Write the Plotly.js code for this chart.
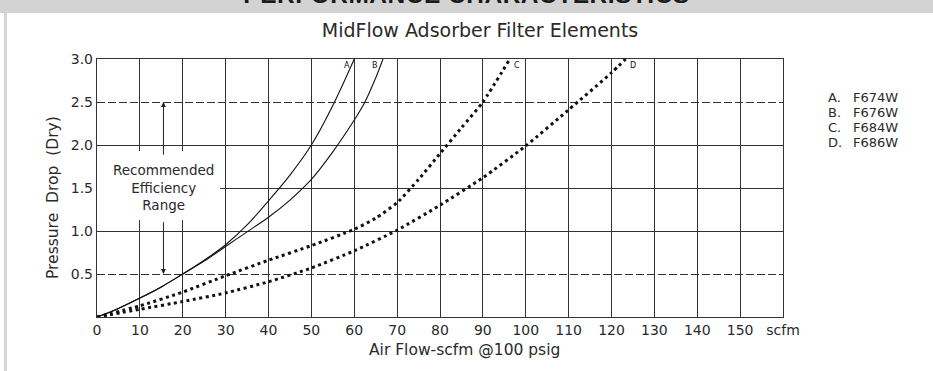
<!DOCTYPE html>
<html>
<head>
<meta charset="utf-8">
<script src="https://cdn.plot.ly/plotly-3.0.1.min.js"></script>
<style>
  html, body { margin: 0; padding: 0; background: #fff; }
  #wrap { position: relative; width: 933px; height: 371px; overflow: hidden; }
  #band { position: absolute; left: 0; top: 0; width: 933px; height: 13px; background: #d3d3d3; overflow: hidden; z-index: 2; }
  #band span { position: absolute; left: 0; width: 933px; text-align: center; top: -19px;
    font: bold 24.5px "Liberation Sans", Arial, sans-serif; color: #1a1a1a; letter-spacing: 0.5px; white-space: nowrap; }
  #edge { position: absolute; left: 4px; top: 13px; width: 3px; height: 358px; background: #d6d6d6; z-index: 2; }
  #chart { position: absolute; left: 0; top: 0; width: 933px; height: 371px; }
  #chart .shapelayer path { shape-rendering: crispEdges; }
</style>
</head>
<body>
<div id="wrap">
  <div id="chart"></div>
  <div id="band"><span>PERFORMANCE CHARACTERISTICS</span></div>
  <div id="edge"></div>
</div>
<script>
// ---- data ----
const chartTitle = 'MidFlow Adsorber Filter Elements';
const xTitle = 'Air Flow-scfm @100 psig';
const yTitle = 'Pressure&nbsp;&nbsp;Drop&nbsp;&nbsp;(Dry)';
const xTickVals = [0, 10, 20, 30, 40, 50, 60, 70, 80, 90, 100, 110, 120, 130, 140, 150, 160];
const xTickText = ['0', '10', '20', '30', '40', '50', '60', '70', '80', '90', '100', '110', '120', '130', '140', '150', 'scfm'];
const yTickVals = [0.5, 1.0, 1.5, 2.0, 2.5, 3.0];
const yTickText = ['0.5', '1.0', '1.5', '2.0', '2.5', '3.0'];
const curveLetters = ['A', 'B', 'C', 'D'];
const modelNames = ['F674W', 'F676W', 'F684W', 'F686W'];

const flowA = [0, 5, 10, 15, 20, 25, 30, 35, 40, 45, 50, 55, 60];
const dropA = [0, 0.10, 0.22, 0.35, 0.50, 0.66, 0.84, 1.07, 1.35, 1.65, 2.00, 2.46, 3.00];
const flowB = [0, 5, 10, 15, 20, 25, 30, 35, 40, 45, 50, 55, 60, 62.5, 65, 66.7];
const dropB = [0, 0.10, 0.22, 0.35, 0.50, 0.65, 0.82, 0.99, 1.16, 1.36, 1.60, 1.92, 2.29, 2.50, 2.78, 3.00];
const flowC = [0, 10, 20, 30, 40, 50, 60, 65, 70, 75, 80, 85, 90, 96.3];
const dropC = [0, 0.13, 0.29, 0.48, 0.66, 0.83, 1.02, 1.15, 1.33, 1.60, 1.90, 2.20, 2.50, 3.00];
const flowD = [0, 10, 20, 30, 40, 50, 60, 70, 80, 90, 100, 110, 120, 123.3];
const dropD = [0, 0.09, 0.18, 0.28, 0.41, 0.57, 0.77, 1.01, 1.30, 1.62, 1.99, 2.41, 2.84, 3.00];

const recText = 'Recommended<br>Efficiency<br>Range';
const recRange = [0.5, 2.5];

// ---- styling ----
const FONT = '"DejaVu Sans", "Liberation Sans", sans-serif';
const INK = '#2a2a2a';
const GRID = '#333';

const flows = [flowA, flowB, flowC, flowD];
const drops = [dropA, dropB, dropC, dropD];
const solid = [true, true, false, false];

const traces = flows.map((fx, i) => ({
  type: 'scatter', mode: 'lines', x: fx, y: drops[i], name: modelNames[i],
  line: solid[i] ? { color: '#111', width: 1.1, shape: 'spline', smoothing: 1 }
                 : { color: '#111', width: 3, dash: '3px,3.5px', shape: 'spline', smoothing: 0.6 },
  hoverinfo: 'skip', showlegend: false
}));

// grid shapes
const shapes = [];
const recX = 15.5;
xTickVals.slice(1, -1).forEach(v => {
  if (v === 10 || v === 20) {
    shapes.push({ type: 'line', xref: 'x', yref: 'y', x0: v, x1: v, y0: 0, y1: 1.13, line: { color: GRID, width: 1 }, layer: 'below' });
    shapes.push({ type: 'line', xref: 'x', yref: 'y', x0: v, x1: v, y0: 1.93, y1: 3, line: { color: GRID, width: 1 }, layer: 'below' });
  } else {
    shapes.push({ type: 'line', xref: 'x', yref: 'y', x0: v, x1: v, y0: 0, y1: 3, line: { color: GRID, width: 1 }, layer: 'below' });
  }
});
yTickVals.slice(0, -1).forEach(v => {
  const dashed = (v === recRange[0] || v === recRange[1]);
  shapes.push({ type: 'line', xref: 'x', yref: 'y', x0: (v === 1.5 ? 28.6 : 0), x1: 160, y0: v, y1: v,
    line: { color: GRID, width: 1, dash: dashed ? '8px,3px' : 'solid' }, layer: 'below' });
});

const annotations = [];
// recommended range
annotations.push({ x: recX, y: 1.51, xref: 'x', yref: 'y', text: recText, showarrow: false,
  font: { family: FONT, size: 13.5, color: INK }, align: 'center' });
annotations.push({ x: recX, y: recRange[1], ax: recX, ay: 1.87, xref: 'x', yref: 'y', axref: 'x', ayref: 'y',
  text: '', showarrow: true, arrowhead: 2, arrowsize: 1, arrowwidth: 1, arrowcolor: '#222', standoff: 0 });
annotations.push({ x: recX, y: recRange[0], ax: recX, ay: 1.12, xref: 'x', yref: 'y', axref: 'x', ayref: 'y',
  text: '', showarrow: true, arrowhead: 2, arrowsize: 1, arrowwidth: 1, arrowcolor: '#222', standoff: 0 });
// curve end labels
flows.forEach((fx, i) => {
  const lx = fx[fx.length - 1];
  const left = i < 2;
  annotations.push({ x: lx + (left ? -0.6 : 0.6), y: 2.93, xref: 'x', yref: 'y', text: curveLetters[i],
    showarrow: false, xanchor: left ? 'right' : 'left', yanchor: 'middle',
    font: { family: FONT, size: 8, color: '#111' } });
});
// legend list
curveLetters.forEach((c, i) => {
  const yPx = 97 + i * 15.3;
  annotations.push({ xref: 'paper', yref: 'paper', x: (826 - 97) / 686, y: (317 - yPx) / 258,
    xanchor: 'left', yanchor: 'middle', text: c + '.', showarrow: false,
    font: { family: FONT, size: 13, color: INK } });
  annotations.push({ xref: 'paper', yref: 'paper', x: (851 - 97) / 686, y: (317 - yPx) / 258,
    xanchor: 'left', yanchor: 'middle', text: modelNames[i], showarrow: false,
    font: { family: FONT, size: 13, color: INK } });
});
// axis titles
annotations.push({ xref: 'paper', yref: 'paper', x: (464 - 97) / 686, y: (317 - 350) / 258,
  xanchor: 'center', yanchor: 'middle', text: xTitle, showarrow: false,
  font: { family: FONT, size: 15.5, color: INK } });
annotations.push({ xref: 'paper', yref: 'paper', x: (53 - 97) / 686, y: (317 - 198) / 258,
  xanchor: 'center', yanchor: 'middle', text: yTitle, textangle: -90, showarrow: false,
  font: { family: FONT, size: 15.5, color: INK } });

const layout = {
  width: 933, height: 371,
  margin: { l: 97, r: 150, t: 59, b: 54, pad: 0 },
  paper_bgcolor: '#fff', plot_bgcolor: '#fff',
  title: { text: chartTitle, xref: 'container', yref: 'container', x: 480 / 933, y: 1 - 30 / 371,
    xanchor: 'center', yanchor: 'middle', font: { family: FONT, size: 19, color: INK } },
  xaxis: { range: [0, 160], tickvals: xTickVals, ticktext: xTickText, showgrid: false, zeroline: false,
    showline: true, mirror: true, linecolor: '#333', linewidth: 1.2, ticks: '',
    tickfont: { family: FONT, size: 14, color: INK }, fixedrange: true },
  yaxis: { range: [0, 3], tickvals: yTickVals, ticktext: yTickText, showgrid: false, zeroline: false,
    showline: true, mirror: true, linecolor: '#333', linewidth: 1.2, ticks: '',
    tickfont: { family: FONT, size: 14, color: INK }, fixedrange: true },
  shapes: shapes,
  annotations: annotations,
  showlegend: false
};

Plotly.newPlot('chart', traces, layout, { displayModeBar: false, staticPlot: true });
</script>
</body>
</html>
